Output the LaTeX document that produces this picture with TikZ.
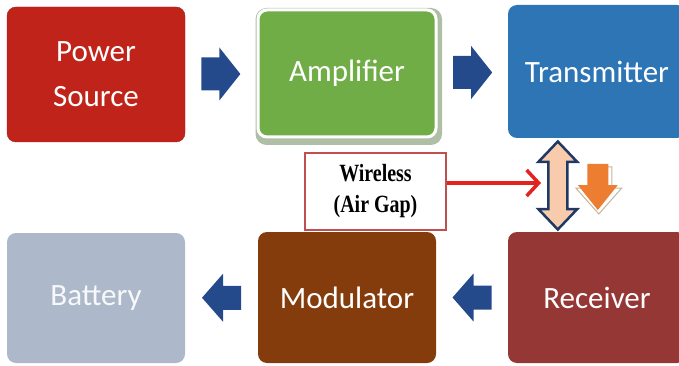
\documentclass[tikz,border=0pt]{standalone}
\usepackage{fontspec}
\setmainfont{Carlito}
\newfontfamily\wirefont{Liberation Serif}
\usetikzlibrary{arrows.meta,calc}
\definecolor{powerred}{HTML}{C0231A}
\definecolor{ampgreen}{HTML}{70AD47}
\definecolor{ampshadow}{HTML}{AEBFA6}
\definecolor{transblue}{HTML}{2E75B6}
\definecolor{battgrey}{HTML}{ADB9CA}
\definecolor{modbrown}{HTML}{843C0C}
\definecolor{recvred}{HTML}{953735}
\definecolor{arrowblue}{HTML}{254A8C}
\definecolor{wirered}{HTML}{C0504D}
\definecolor{linered}{HTML}{E3241E}
\definecolor{peach}{HTML}{F8CBAD}
\definecolor{navy}{HTML}{1F3864}
\definecolor{orangedown}{HTML}{ED7D31}
\definecolor{tanrim}{HTML}{C9B49E}
\newcommand{\tallword}[1]{\scalebox{0.95}[1.18]{#1}}

\begin{document}
\begin{tikzpicture}[x=1pt,y=-1pt,
  block/.style={rounded corners=9pt,inner sep=0pt,minimum width=178pt,text=white,align=center,font=\fontsize{31}{45}\selectfont},
  redline/.style={draw=linered,line width=3.5pt,line join=miter,-{Straight Barb[length=12pt 0,width=26pt 0]}}]
\useasboundingbox (0,0) rectangle (679,366);
\clip (0,0) rectangle (679,366);
\node[block,fill=powerred,draw=powerred!85!black,minimum height=135pt] (power) at (96,74.5) {Power\\Source};
\fill[ampshadow,rounded corners=11pt] (255.5,8) rectangle (442,145);
\node[block,fill=ampgreen,draw=white,line width=3pt,minimum height=127pt] (amp) at (347,73.5) {Amplifier};
\node[block,fill=transblue,minimum height=133pt] (trans) at (597,71.5) {Transmitter};
\node[block,fill=battgrey,minimum height=130pt,text=white!90!battgrey] (batt) at (96,298) {Battery};
\node[block,fill=modbrown,minimum height=131pt] (mod) at (347,297.5) {Modulator};
\node[block,fill=recvred,minimum height=131pt] (recv) at (597,297.5) {Receiver};
\foreach \a/\b/\ang/\s/\h in {power/amp/0/16.5/26.5, amp/trans/0/16.5/26.5, batt/mod/180/12/24, mod/recv/180/12/24} {
\begin{scope}[shift={($(\a.east)!0.5!(\b.west)$)},rotate=\ang]
\fill[arrowblue] (-19.5,-\s) -- (-1.5,-\s) -- (-1.5,-\h) -- (19.5,0) -- (-1.5,\h) -- (-1.5,\s) -- (-19.5,\s) -- cycle;
\end{scope}
}
\node[draw=wirered,line width=1.2pt,fill=white,minimum width=141pt,minimum height=77pt,inner sep=0pt,align=center,font=\wirefont\bfseries\fontsize{21}{31}\selectfont] (wire) at (375.5,191.5) {\tallword{Wireless}\\\tallword{(Air Gap)}};
\coordinate (gap) at (541,183);
\draw[redline] (wire.east |- gap) -- (gap);
\begin{scope}[shift={($(trans.south west)!0.5!(recv.north west)+(50,0.5)$)}]
\draw[fill=peach,draw=navy,line width=2.5pt,line join=miter] (0,-44) -- (19.5,-23.5) -- (9.5,-23.5) -- (9.5,23.5) -- (19.5,23.5) -- (0,44) -- (-19.5,23.5) -- (-9.5,23.5) -- (-9.5,-23.5) -- (-19.5,-23.5) -- cycle;
\end{scope}
\begin{scope}[shift={($(trans.south west)!0.5!(recv.north west)+(90,2)$)}]
\draw[fill=white,draw=tanrim,line width=1pt] (-8,-20) -- (14,-20) -- (14,1) -- (24,1) -- (1,27) -- (-22,1) -- (-8,1) -- cycle;
\fill[orangedown] (-10.5,-23) -- (10.5,-23) -- (10.5,-2) -- (20,-2) -- (0,23) -- (-20,-2) -- (-10.5,-2) -- cycle;
\end{scope}
\end{tikzpicture}
\end{document}
